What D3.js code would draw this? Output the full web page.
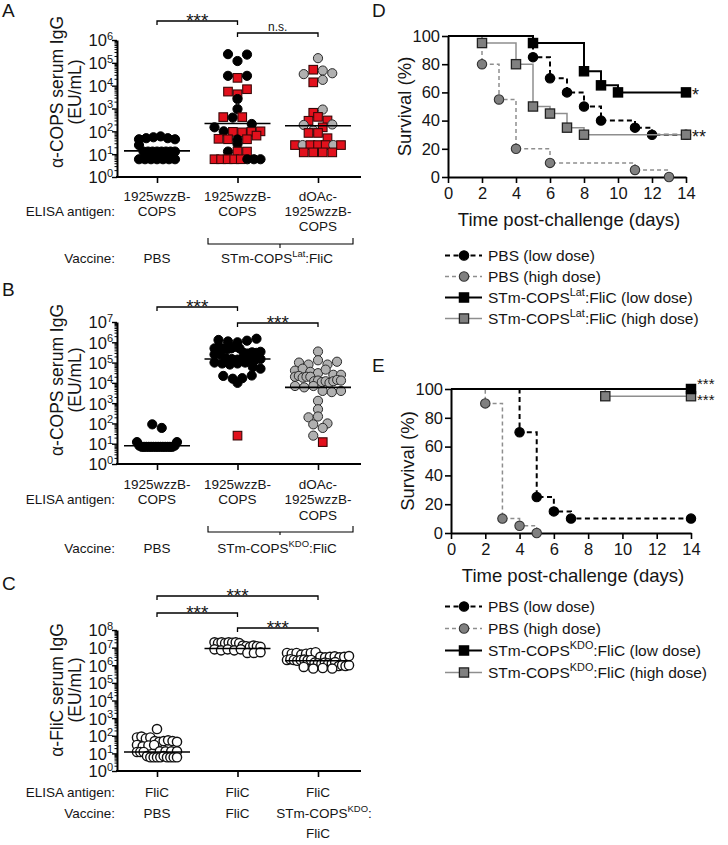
<!DOCTYPE html>
<html><head><meta charset="utf-8">
<script src="https://cdn.jsdelivr.net/npm/d3@7"></script>
<style>
body{margin:0;background:#fff}
svg{display:block}
text{font-family:"Liberation Sans",Arial,Helvetica,sans-serif;fill:#151515}
</style>
</head><body>
<svg id="c" width="728" height="845"></svg>
<script>
// ================= DATA =================
// Scatter panels: [value (EU/mL), kind]  k=black circle, g=grey circle, r=red square, w=open circle
const A_pbs = [[45,'k'],[50,'k'],[55,'k'],[60,'k'],[50,'k'],[45,'k'],[25,'k'],
  [13,'k'],[13,'k'],[13,'k'],[13,'k'],[13,'k'],[13,'k'],[13,'k'],[13,'k'],
  [6,'k'],[6,'k'],[6,'k'],[6,'k'],[6,'k'],[6,'k'],[6,'k']];
const A_copsLat = [[2.4e5,'k'],[1.2e5,'k'],[2.3e5,'k'],
  [2.7e4,'k'],[2.2e4,'r'],[2.7e4,'k'],
  [5.5e3,'r'],[4.2e3,'r'],[7e3,'r'],[2.6e3,'k'],[950,'k'],
  [420,'r'],[400,'k'],[420,'r'],
  [210,'k'],[150,'k'],
  [100,'k'],[95,'r'],[90,'r'],[95,'r'],[100,'r'],
  [47,'r'],[45,'r'],[44,'k'],[45,'r'],[65,'r'],[28,'k'],
  [13,'k'],[13,'r'],[13,'r'],
  [6,'r'],[6,'r'],[6,'r'],[6,'r'],[6,'r'],[6,'k'],[6,'k'],[6,'k']];
const A_dOAc = [[1.6e5,'g'],
  [3.2e4,'g'],[5e4,'r'],[4.6e4,'g'],[3.5e4,'g'],
  [1.4e4,'r'],[1.8e4,'g'],
  [650,'r'],[900,'g'],
  [290,'r'],[430,'r'],[300,'r'],
  [190,'g'],[110,'g'],[150,'r'],[200,'g'],
  [85,'r'],[85,'r'],[50,'r'],
  [25,'r'],[25,'g'],[25,'r'],[25,'r'],[25,'r'],[25,'g'],[25,'r'],
  [12,'r'],[12,'r'],[12,'r'],[12,'r']];
const A_medians = [14, 220, 175];

const B_pbs = [[90,'k'],[60,'k'],
  [12,'k'],[8,'k'],[7,'k'],[7,'k'],[7,'k'],[7,'k'],[7,'k'],[7,'k'],[7,'k'],[7,'k'],
  [7,'k'],[7,'k'],[7,'k'],[7,'k'],[7,'k'],[7,'k'],[8,'k'],[12,'k']];
const B_copsKdo = [[1.3e6,'k'],[1.1e6,'k'],[1.0e6,'k'],[1.2e6,'k'],[1.5e6,'k'],
  [5e5,'k'],[6e5,'k'],[5e5,'k'],[4.5e5,'k'],[5e5,'k'],[6e5,'k'],[5e5,'k'],
  [3e5,'k'],[2.8e5,'k'],[3.2e5,'k'],[2.5e5,'k'],[3e5,'k'],[2.6e5,'k'],[3.4e5,'k'],
  [1.6e5,'k'],[1.5e5,'k'],[1.4e5,'k'],[1.6e5,'k'],[1.5e5,'k'],[1.3e5,'k'],[1.5e5,'k'],
  [1e5,'k'],[9e4,'k'],[8e4,'k'],[9e4,'k'],[1e5,'k'],
  [6e4,'k'],[5e4,'k'],
  [2.2e4,'k'],[1.6e4,'k'],[1e4,'k'],[1.7e4,'k'],[2.3e4,'k'],
  [25,'r']];
const B_dOAc = [[3.5e5,'g'],
  [1e5,'g'],[8e4,'g'],[1.3e5,'g'],[8e4,'g'],[1.1e5,'g'],
  [4e4,'g'],[5e4,'g'],[3.5e4,'g'],[3e4,'g'],[4.5e4,'g'],
  [2.5e4,'g'],[2e4,'g'],[2.2e4,'g'],[1.8e4,'g'],[2e4,'g'],[2.5e4,'g'],[2e4,'g'],
  [1.2e4,'g'],[1.3e4,'g'],[1.1e4,'g'],[1.2e4,'g'],[1e4,'g'],[1.2e4,'g'],[1.4e4,'g'],[1.3e4,'g'],
  [7e3,'g'],[6e3,'g'],[7e3,'g'],
  [4e3,'g'],[3.5e3,'g'],[4e3,'g'],
  [1.3e3,'g'],[500,'g'],[200,'g'],[220,'g'],[90,'g'],[100,'g'],[60,'g'],[25,'g'],
  [12,'r']];
const B_medians = [8, 1.5e5, 6e3];

const C_pbs = [[240,'w'],
  [80,'w'],[90,'w'],[70,'w'],[80,'w'],
  [50,'w'],[45,'w'],[50,'w'],[55,'w'],[50,'w'],[45,'w'],
  [30,'w'],[25,'w'],[28,'w'],[30,'w'],
  [13,'w'],[12,'w'],[13,'w'],[12,'w'],[13,'w'],[12,'w'],[13,'w'],
  [7,'w'],[6,'w'],[6,'w'],[6,'w'],[6,'w'],[7,'w'],[6,'w'],[6,'w'],[6,'w'],[6,'w']];
const C_flic = [[2e7,'w'],[1.8e7,'w'],[2e7,'w'],[1.8e7,'w'],[2e7,'w'],[1.9e7,'w'],[2e7,'w'],[1.8e7,'w'],
  [1.3e7,'w'],[1.2e7,'w'],[1.1e7,'w'],[1.3e7,'w'],[1.2e7,'w'],[1.1e7,'w'],
  [8e6,'w'],[7e6,'w'],[8e6,'w'],[7e6,'w'],[8e6,'w'],
  [5e6,'w'],[5e6,'w'],[5.5e6,'w']];
const C_copsFlic = [[5e6,'w'],[4.5e6,'w'],[5e6,'w'],[4e6,'w'],[4.5e6,'w'],[5e6,'w'],[5.5e6,'w'],
  [3e6,'w'],[2.8e6,'w'],[3e6,'w'],[3.2e6,'w'],[2.8e6,'w'],[3e6,'w'],[3.3e6,'w'],
  [2e6,'w'],[2.2e6,'w'],[2e6,'w'],[1.8e6,'w'],[2e6,'w'],[2.1e6,'w'],[1.9e6,'w'],[2e6,'w'],
  [1.4e6,'w'],[1.3e6,'w'],[1.2e6,'w'],[1.4e6,'w'],[1.3e6,'w'],[1.2e6,'w'],[1.5e6,'w'],
  [9e5,'w'],[1e6,'w'],[8e5,'w'],[9e5,'w'],[1e6,'w'],
  [6.5e5,'w'],[7e5,'w'],[6.5e5,'w']];
const C_medians = [12, 9e6, 1.8e6];

const antigenAB = [["1925wzzB-","COPS"],["1925wzzB-","COPS"],["dOAc-","1925wzzB-","COPS"]];
const antigenC = [["FliC"],["FliC"],["FliC"]];
const vaccineA = {single:"PBS", group:"STm-COPS^{Lat}:FliC"};
const vaccineB = {single:"PBS", group:"STm-COPS^{KDO}:FliC"};
const vaccineC = [["PBS"],["FliC"],["STm-COPS^{KDO}:","FliC"]];
const sigA = [[0,1,"***"],[1,2,"n.s."]];
const sigB = [[0,1,"***"],[1,2,"***"]];
const sigC = [[0,2,"***"],[0,1,"***"],[1,2,"***"]];

// Survival panels: days and % surviving (Kaplan-Meier steps)
const D_pbsLow_days  = [0,5,6,7,8,9,11,12,14];
const D_pbsLow_surv  = [100,85,70,60,50,40,35,30,30];
const D_pbsHigh_days = [0,2,3,4,6,11,13];
const D_pbsHigh_surv = [100,80,55,20,10,5,0];
const D_stmLow_days  = [0,5,8,9,10,14];
const D_stmLow_surv  = [100,95,75,65,60,60];
const D_stmHigh_days = [0,2,4,5,6,7,8,14];
const D_stmHigh_surv = [100,95,80,50,45,35,30,30];
const D_stars = [["*",60],["**",30]];

const E_pbsLow_days  = [0,4,5,6,7,14];
const E_pbsLow_surv  = [100,70,25,15,10,10];
const E_pbsHigh_days = [0,2,3,4,5];
const E_pbsHigh_surv = [100,90,10,5,0];
const E_stmLow_days  = [0,14];
const E_stmLow_surv  = [100,100];
const E_stmHigh_days = [0,9,14];
const E_stmHigh_surv = [100,95,95];
const E_stars = [["***",100],["***",95]];

const survTicksX = [0,2,4,6,8,10,12,14];
const survTicksY = [0,20,40,60,80,100];
const legendD = ["PBS (low dose)","PBS (high dose)","STm-COPS^{Lat}:FliC (low dose)","STm-COPS^{Lat}:FliC (high dose)"];
const legendE = ["PBS (low dose)","PBS (high dose)","STm-COPS^{KDO}:FliC (low dose)","STm-COPS^{KDO}:FliC (high dose)"];

// ================= DRAWING =================
const svg = d3.select("#c");

function rich(sel, str, fs) {
  const parts = str.split(/(\^\{[^}]*\})/).filter(s => s.length);
  let raised = false;
  parts.forEach(p => {
    if (p.startsWith("^{")) {
      sel.append("tspan").attr("font-size", fs * 0.7).attr("dy", -fs * 0.42).text(p.slice(2, -1));
      raised = true;
    } else {
      const t = sel.append("tspan").text(p);
      if (raised) { t.attr("dy", fs * 0.42); raised = false; }
    }
  });
}

function layoutGroup(data, y, cx, maxSpread) {
  const pts = data.map((d, i) => ({v: d[0], k: d[1], i, y: y(d[0])}));
  const sorted = pts.slice().sort((a, b) => a.y - b.y);
  const clusters = []; let cur = null;
  sorted.forEach(p => {
    if (!cur || p.y - cur.y0 > 7) { cur = {y0: p.y, pts: []}; clusters.push(cur); }
    cur.pts.push(p);
  });
  clusters.forEach(c => {
    c.pts.sort((a, b) => a.i - b.i);
    const n = c.pts.length;
    const s = n > 1 ? Math.min(9.5, maxSpread / (n - 1)) : 0;
    c.pts.forEach((p, j) => p.x = cx + (j - (n - 1) / 2) * s);
  });
  return pts;
}

function drawMarker(g, p) {
  if (p.k === "r") {
    g.append("rect").attr("x", p.x - 4.3).attr("y", p.y - 4.3).attr("width", 8.6).attr("height", 8.6)
      .attr("fill", "#e2101c").attr("stroke", "#3a0808").attr("stroke-width", 1.1);
  } else {
    const st = {k: ["#000", "#000", 1], g: ["#b0b0b0", "#2a2a2a", 1], w: ["#fff", "#111", 1.4]}[p.k];
    g.append("circle").attr("cx", p.x).attr("cy", p.y).attr("r", 4.6)
      .attr("fill", st[0]).attr("stroke", st[1]).attr("stroke-width", st[2]);
  }
}

const AX = 117, XEND = 361;

function scatterPanel(cfg) {
  const g = svg.append("g");
  const y = d3.scaleLog().domain([1, Math.pow(10, cfg.maxExp)]).range([cfg.yBottom, cfg.yTop]);
  const x = d3.scalePoint().domain([0, 1, 2]).range([157, 318]);
  const majors = d3.range(0, cfg.maxExp + 1).map(e => Math.pow(10, e));
  const minors = [];
  for (let e = 0; e < cfg.maxExp; e++) for (let m = 2; m <= 9; m++) minors.push(m * Math.pow(10, e));

  const am = g.append("g").attr("transform", `translate(${AX},0)`)
    .call(d3.axisLeft(y).tickValues(minors).tickSize(2.5).tickSizeOuter(0).tickFormat(""));
  am.select(".domain").remove();
  am.selectAll(".tick line").attr("stroke", "#000").attr("stroke-width", 1);
  const aM = g.append("g").attr("transform", `translate(${AX},0)`)
    .call(d3.axisLeft(y).tickValues(majors).tickSize(5).tickSizeOuter(0).tickFormat(""));
  aM.select(".domain").attr("stroke", "#000").attr("stroke-width", 2);
  aM.selectAll(".tick line").attr("stroke", "#000").attr("stroke-width", 1.4);
  aM.selectAll(".tick text").each(function(d) {
    const t = d3.select(this);
    t.attr("x", -4).attr("dy", "0.36em").attr("font-size", 16.5)
      .attr("font-family", '"Liberation Sans",Arial,sans-serif').attr("fill", "#151515");
    t.append("tspan").text("10");
    t.append("tspan").attr("font-size", 11).attr("dy", -6.5).text(Math.round(Math.log10(d)));
  });
  g.append("line").attr("x1", AX - 1).attr("x2", XEND).attr("y1", cfg.yBottom).attr("y2", cfg.yBottom)
    .attr("stroke", "#000").attr("stroke-width", 2);
  const ax = g.append("g").attr("transform", `translate(0,${cfg.yBottom})`)
    .call(d3.axisBottom(x).tickSize(6).tickSizeOuter(0).tickFormat(""));
  ax.select(".domain").remove();
  ax.selectAll(".tick line").attr("stroke", "#000").attr("stroke-width", 1.6);

  g.append("text").attr("transform", `translate(63,${cfg.labelY}) rotate(-90)`)
    .attr("text-anchor", "middle").attr("font-size", 17.5).text(cfg.ylab);
  g.append("text").attr("transform", `translate(81,${cfg.labelY}) rotate(-90)`)
    .attr("text-anchor", "middle").attr("font-size", 17.5).text("(EU/mL)");

  const pg = g.append("g");
  cfg.groups.forEach((data, i) => {
    layoutGroup(data, y, x(i), cfg.spread[i]).forEach(p => drawMarker(pg, p));
  });
  g.selectAll(".med").data(cfg.medians).join("line")
    .attr("x1", (d, i) => x(i) - 33).attr("x2", (d, i) => x(i) + 33)
    .attr("y1", d => y(d)).attr("y2", d => y(d)).attr("stroke", "#000").attr("stroke-width", 1.6);

  cfg.sig.forEach((s, i) => {
    const yy = cfg.sigY[i];
    g.append("path").attr("d", `M${x(s[0])},${yy + 4}V${yy}H${x(s[1])}V${yy + 4}`)
      .attr("fill", "none").attr("stroke", "#000").attr("stroke-width", 1.3);
    const star = s[2].startsWith("*");
    g.append("text").attr("x", (x(s[0]) + x(s[1])) / 2).attr("y", star ? yy + 5.5 : yy - 2.5)
      .attr("text-anchor", "middle").attr("font-size", star ? 19 : 12).text(s[2]);
  });

  const fs = 13.5;
  cfg.antigen.forEach((lines, i) => lines.forEach((t, j) => {
    g.append("text").attr("x", x(i)).attr("y", cfg.rows[j]).attr("text-anchor", "middle").attr("font-size", fs).text(t);
  }));
  g.append("text").attr("x", 115).attr("y", cfg.rows[cfg.antigenLabelRow]).attr("text-anchor", "end")
    .attr("font-size", fs).text("ELISA antigen:");
  g.append("text").attr("x", 115).attr("y", cfg.vacRows[0]).attr("text-anchor", "end")
    .attr("font-size", fs).text("Vaccine:");
  if (cfg.vaccine.group) {
    g.append("text").attr("x", x(0)).attr("y", cfg.vacRows[0]).attr("text-anchor", "middle").attr("font-size", fs).text(cfg.vaccine.single);
    const [b0, b1, b2] = cfg.brace;
    g.append("path").attr("d", `M208,${b0}V${b1}H353V${b0}M280,${b1}V${b2}`)
      .attr("fill", "none").attr("stroke", "#000").attr("stroke-width", 1.1);
    rich(g.append("text").attr("x", 277).attr("y", cfg.vacRows[0]).attr("text-anchor", "middle").attr("font-size", fs), cfg.vaccine.group, fs);
  } else {
    cfg.vaccine.forEach((lines, i) => lines.forEach((t, j) => {
      const cxx = lines.length > 1 && j === 0 ? x(i) + 6 : x(i);
      rich(g.append("text").attr("x", cxx).attr("y", cfg.vacRows[j]).attr("text-anchor", "middle").attr("font-size", fs), t, fs);
    }));
  }
  g.append("text").attr("x", 2).attr("y", cfg.letterY).attr("font-size", 19).text(cfg.letter);
}

scatterPanel({letter: "A", letterY: 17, maxExp: 6, yTop: 40, yBottom: 177, labelY: 92, spread: [36, 46, 46],
  ylab: "α-COPS serum IgG", groups: [A_pbs, A_copsLat, A_dOAc], medians: A_medians,
  sig: sigA, sigY: [21, 33], antigen: antigenAB, antigenLabelRow: 1, rows: [201, 216, 231],
  vaccine: vaccineA, brace: [238, 244, 248], vacRows: [263]});
scatterPanel({letter: "B", letterY: 296, maxExp: 7, yTop: 322, yBottom: 464, labelY: 380, spread: [40, 46, 46],
  ylab: "α-COPS serum IgG", groups: [B_pbs, B_copsKdo, B_dOAc], medians: B_medians,
  sig: sigB, sigY: [307, 323], antigen: antigenAB, antigenLabelRow: 1, rows: [489, 504, 520],
  vaccine: vaccineB, brace: [526, 532, 535], vacRows: [553]});
scatterPanel({letter: "C", letterY: 590, maxExp: 8, yTop: 630, yBottom: 771, labelY: 690, spread: [40, 46, 62],
  ylab: "α-FliC serum IgG", groups: [C_pbs, C_flic, C_copsFlic], medians: C_medians,
  sig: sigC, sigY: [596, 613, 628], antigen: antigenC, antigenLabelRow: 0, rows: [797],
  vaccine: vaccineC, vacRows: [818, 838]});

// ---------- survival ----------
const seriesStyle = {
  pbsLow:  {stroke: "#000", dash: "5,3.5", w: 2, shape: "circle", fill: "#000", ms: "#000"},
  pbsHigh: {stroke: "#8e8e8e", dash: "4,3", w: 1.5, shape: "circle", fill: "#808080", ms: "#333"},
  stmHigh: {stroke: "#8e8e8e", dash: null, w: 1.5, shape: "square", fill: "#808080", ms: "#222"},
  stmLow:  {stroke: "#000", dash: null, w: 2, shape: "square", fill: "#000", ms: "#000"}
};

function survMarker(g, st, cx, cy) {
  if (st.shape === "circle") g.append("circle").attr("cx", cx).attr("cy", cy).attr("r", 4.7)
    .attr("fill", st.fill).attr("stroke", st.ms).attr("stroke-width", 1.1);
  else g.append("rect").attr("x", cx - 4.6).attr("y", cy - 4.6).attr("width", 9.2).attr("height", 9.2)
    .attr("fill", st.fill).attr("stroke", st.ms).attr("stroke-width", 1.3);
}

function survPanel(cfg) {
  const g = svg.append("g");
  const x = d3.scaleLinear().domain([0, 14]).range([cfg.x0, cfg.x1]);
  const y = d3.scaleLinear().domain([0, 100]).range([cfg.y0, cfg.y1]);
  const ay = g.append("g").attr("transform", `translate(${cfg.x0},0)`)
    .call(d3.axisLeft(y).tickValues(survTicksY).tickSize(6).tickSizeOuter(0));
  const ax = g.append("g").attr("transform", `translate(0,${cfg.y0})`)
    .call(d3.axisBottom(x).tickValues(survTicksX).tickSize(6).tickSizeOuter(0));
  [ay, ax].forEach(a => {
    a.select(".domain").attr("stroke", "#000").attr("stroke-width", 2);
    a.selectAll(".tick line").attr("stroke", "#000").attr("stroke-width", 1.6);
    a.selectAll(".tick text").attr("font-size", 16.5).attr("fill", "#151515")
      .attr("font-family", '"Liberation Sans",Arial,sans-serif');
  });
  ay.selectAll(".tick text").attr("x", -8);
  ax.selectAll(".tick text").attr("y", 10);
  g.append("text").attr("x", (cfg.x0 + cfg.x1) / 2 + 2).attr("y", cfg.y0 + 49).attr("text-anchor", "middle")
    .attr("font-size", 18.5).text("Time post-challenge (days)");
  g.append("text").attr("transform", `translate(${cfg.x0 - 37},${(cfg.y0 + cfg.y1) / 2}) rotate(-90)`)
    .attr("text-anchor", "middle").attr("font-size", 18.5).text("Survival (%)");

  const line = d3.line().x(d => x(d[0])).y(d => y(d[1])).curve(d3.curveStepAfter);
  cfg.series.forEach(s => {
    const st = seriesStyle[s.key];
    const pts = s.days.map((d, i) => [d, s.surv[i]]);
    g.append("path").attr("d", line(pts)).attr("fill", "none").attr("stroke", st.stroke)
      .attr("stroke-width", st.w).attr("stroke-dasharray", st.dash);
    pts.slice(1).forEach(p => survMarker(g, st, x(p[0]), y(p[1])));
  });
  // significance stars, stacked upward so they never collide
  const sorted = cfg.stars.slice().sort((a, b) => a[1] - b[1]);
  let prevY = Infinity;
  sorted.forEach(s => {
    let yy = y(s[1]) + 8.5;
    if (prevY - yy < 16) yy = prevY - 16;
    g.append("text").attr("x", x(14) + 6).attr("y", yy).attr("font-size", cfg.starSize).text(s[0]);
    prevY = yy;
  });
  const keys = ["pbsLow", "pbsHigh", "stmLow", "stmHigh"];
  cfg.legend.forEach((lab, i) => {
    const s2 = seriesStyle[keys[i]];
    const ly = cfg.legY[i];
    g.append("line").attr("x1", 445).attr("x2", 482).attr("y1", ly - 5.5).attr("y2", ly - 5.5)
      .attr("stroke", s2.stroke).attr("stroke-width", s2.w).attr("stroke-dasharray", s2.dash);
    survMarker(g, s2, 464, ly - 5.5);
    rich(g.append("text").attr("x", 488).attr("y", ly).attr("font-size", 15.5), lab, 15.5);
  });
  g.append("text").attr("x", 372).attr("y", cfg.letterY).attr("font-size", 19).text(cfg.letter);
}

survPanel({letter: "D", letterY: 17, x0: 448, x1: 686, y0: 177, y1: 36,
  series: [
    {key: "pbsHigh", days: D_pbsHigh_days, surv: D_pbsHigh_surv},
    {key: "pbsLow", days: D_pbsLow_days, surv: D_pbsLow_surv},
    {key: "stmHigh", days: D_stmHigh_days, surv: D_stmHigh_surv},
    {key: "stmLow", days: D_stmLow_days, surv: D_stmLow_surv}],
  stars: D_stars, starSize: 18, legend: legendD, legY: [261, 282, 303, 324]});
survPanel({letter: "E", letterY: 372, x0: 451, x1: 691, y0: 533, y1: 389,
  series: [
    {key: "pbsHigh", days: E_pbsHigh_days, surv: E_pbsHigh_surv},
    {key: "pbsLow", days: E_pbsLow_days, surv: E_pbsLow_surv},
    {key: "stmHigh", days: E_stmHigh_days, surv: E_stmHigh_surv},
    {key: "stmLow", days: E_stmLow_days, surv: E_stmLow_surv}],
  stars: E_stars, starSize: 15, legend: legendE, legY: [612, 634, 656, 678]});
</script>
</body></html>
